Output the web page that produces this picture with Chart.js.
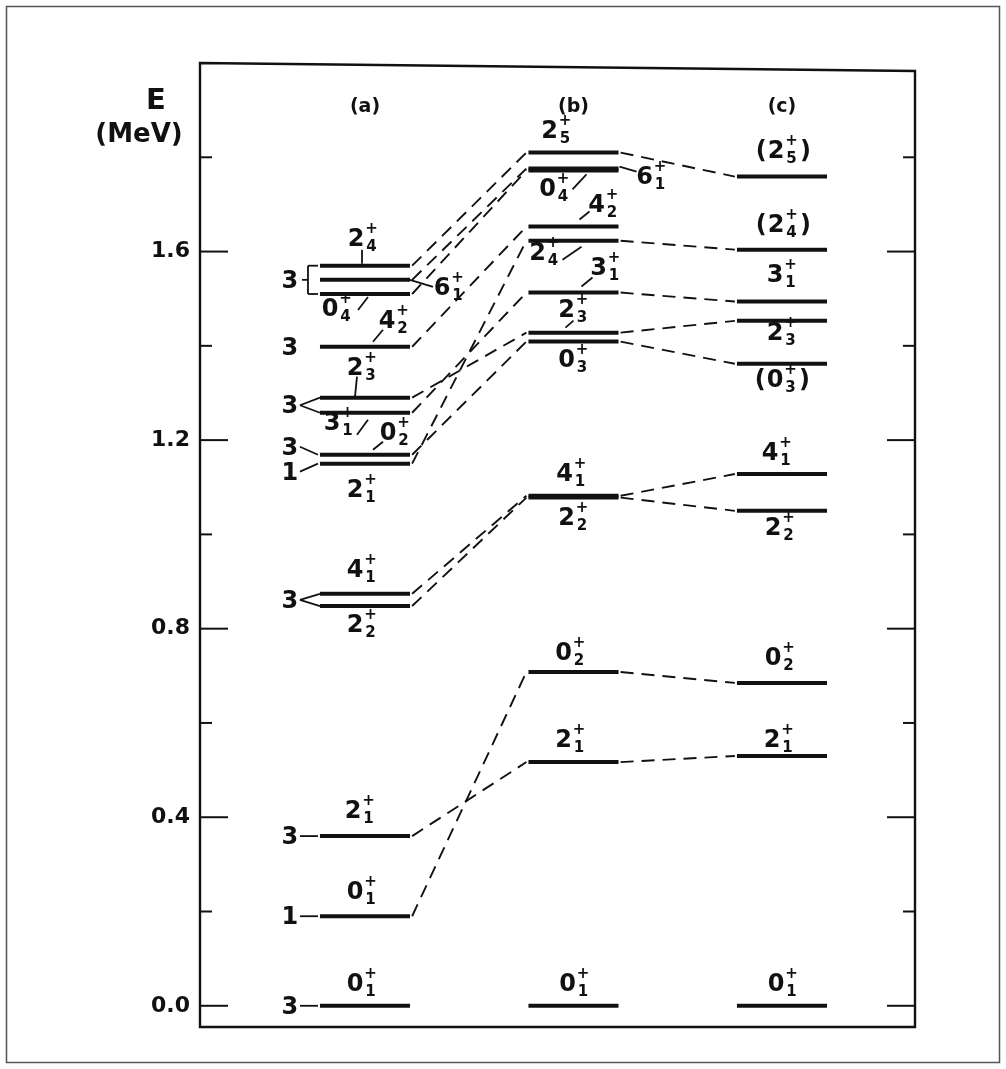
<!DOCTYPE html>
<html>
<head>
<meta charset="utf-8">
<title>Energy levels</title>
<script src="https://cdn.jsdelivr.net/npm/chart.js@4.4.1/dist/chart.umd.min.js"></script>
<style>
  html, body { margin: 0; padding: 0; background: #fff; }
  canvas { display: block; }
</style>
</head>
<body>
<canvas id="levels" width="1006" height="1069"></canvas>
<script>
// panel headings
const columns = ['(a)', '(b)', '(c)'];

// level energies (MeV), with their spin labels (J_k)
const energiesA = [0.0, 0.19, 0.36, 0.848, 0.874, 1.150, 1.169, 1.258, 1.290, 1.398, 1.510, 1.540, 1.570];
const spinsA = ['0_1', '0_1', '2_1', '2_2', '4_1', '2_1', '0_2', '3_1', '2_3', '4_2', '0_4', '6_1', '2_4'];

const energiesB = [0.0, 0.517, 0.708, 1.078, 1.082, 1.409, 1.428, 1.513, 1.623, 1.653, 1.772, 1.776, 1.810];
const spinsB = ['0_1', '2_1', '0_2', '2_2', '4_1', '0_3', '2_3', '3_1', '2_4', '4_2', '0_4', '6_1', '2_5'];

const energiesC = [0.0, 0.530, 0.685, 1.050, 1.128, 1.362, 1.453, 1.494, 1.604, 1.759];
const spinsC = ['0_1', '2_1', '0_2', '2_2', '4_1', '(0_3)', '2_3', '3_1', '(2_4)', '(2_5)'];

// dashed correspondences [from, to]
const linksAB = [[1, 2], [2, 1], [3, 3], [4, 4], [5, 8], [6, 5], [7, 7], [8, 6], [9, 9], [10, 10], [11, 11], [12, 12]];
const linksBC = [[1, 1], [2, 2], [3, 3], [4, 4], [5, 5], [6, 6], [7, 7], [8, 8], [12, 9]];

// numbers left of column (a) and the levels they belong to
const multA = [['3', [0]], ['1', [1]], ['3', [2]], ['3', [3, 4]], ['1', [5]], ['3', [6]], ['3', [7, 8]], ['3', [9]], ['3', [10, 11, 12]]];

const majorTicks = [0.0, 0.4, 0.8, 1.2, 1.6];
const minorTicks = [0.2, 0.6, 1.0, 1.4, 1.8];

// ---- layout ----
const colX = [1, 2, 3];
const halfW = 0.216;
// label placement: [dx from column centre, baseline dy from level, optional leader x1,y1,x2,y2]
const placeA = [[-10, -15], [-10, -17], [-12, -18], [-10, 26], [-10, -17], [-10, 33],
  [23, -15, 8, -5, 18, -13], [-33, 17, -8, 22, 3, 7], [-10, -23, -8, -21, -10, -1],
  [22, -19, 8, -5, 18, -17], [-35, 22, -7, 16, 3, 3], [77, 15, 45, 0, 68, 7], [-9, -20, -3, -16, -3, -2]];
const placeB = [[-6, -15], [-10, -15], [-10, -12], [-7, 27], [-9, -15], [-7, 25],
  [-7, -16, -8, -5, 0, -12], [25, -18, 8, -6, 19, -15], [-36, 19, -11, 19, 8, 6],
  [23, -15, 6, -7, 16, -15], [-26, 26, -1, 19, 13, 4], [71, 15, 46, -2, 63, 3], [-24, -15]];
const placeC = [[-6, -15], [-10, -9], [-9, -18], [-9, 24], [-12, -14], [-7, 23],
  [-7, 19], [-7, -20], [-6, -18], [-6, -19]];
const multDy = [0, 0, 0, 0, 8, -8, 0, 0, 0];

const BIG = 'bold 24px "DejaVu Sans"';
const SMALL = 'bold 15px "DejaVu Sans"';
const INK = '#111';

const levelSets = [
  { energies: energiesA, spins: spinsA, place: placeA },
  { energies: energiesB, spins: spinsB, place: placeB },
  { energies: energiesC, spins: spinsC, place: placeC }
];

const datasets = [];
levelSets.forEach(function (set, c) {
  set.energies.forEach(function (e) {
    datasets.push({
      data: [{ x: colX[c] - halfW, y: e }, { x: colX[c] + halfW, y: e }],
      borderColor: INK, borderWidth: 4, borderCapStyle: 'butt'
    });
  });
});
function addLinks(links, from, to, cFrom, cTo) {
  links.forEach(function (l) {
    datasets.push({
      data: [{ x: colX[cFrom] + halfW + 0.01, y: from[l[0]] }, { x: colX[cTo] - halfW - 0.01, y: to[l[1]] }],
      borderColor: INK, borderWidth: 1.9, borderDash: [13, 8]
    });
  });
}
addLinks(linksAB, energiesA, energiesB, 0, 1);
addLinks(linksBC, energiesB, energiesC, 1, 2);

function drawSpin(ctx, cx, by, label) {
  const paren = label.startsWith('(');
  const parts = label.replace(/[()]/g, '').split('_');
  ctx.textAlign = 'left';
  ctx.textBaseline = 'alphabetic';
  ctx.font = BIG;
  const w = ctx.measureText(parts[0]).width;
  const x0 = cx - w / 2;
  ctx.fillText(parts[0], x0, by);
  ctx.font = SMALL;
  const sw = Math.max(ctx.measureText('+').width, ctx.measureText(parts[1]).width);
  ctx.fillText('+', x0 + w + 1, by - 13);
  ctx.fillText(parts[1], x0 + w + 2, by + 5);
  if (paren) {
    ctx.font = BIG;
    ctx.textAlign = 'right';
    ctx.fillText('(', x0 - 1, by);
    ctx.textAlign = 'left';
    ctx.fillText(')', x0 + w + sw + 3, by);
  }
}

function line(ctx, x1, y1, x2, y2) {
  ctx.beginPath();
  ctx.moveTo(x1, y1);
  ctx.lineTo(x2, y2);
  ctx.stroke();
}

const decor = {
  id: 'decor',
  beforeDraw(chart) {
    const ctx = chart.ctx;
    ctx.save();
    ctx.fillStyle = '#fff';
    ctx.fillRect(0, 0, chart.width, chart.height);
    ctx.restore();
  },
  afterDraw(chart) {
    const ctx = chart.ctx;
    const area = chart.chartArea;
    const xs = chart.scales.x, ys = chart.scales.y;
    ctx.save();
    ctx.strokeStyle = '#555';
    ctx.lineWidth = 1.5;
    ctx.strokeRect(6.5, 6.5, 993, 1056);

    // plot box
    ctx.strokeStyle = INK;
    ctx.lineWidth = 2.4;
    ctx.beginPath();
    ctx.moveTo(area.left, area.top);
    ctx.lineTo(area.right, area.top + 8);
    ctx.lineTo(area.right, area.bottom);
    ctx.lineTo(area.left, area.bottom);
    ctx.closePath();
    ctx.stroke();

    // inward ticks
    ctx.lineWidth = 2;
    majorTicks.forEach(function (v) {
      const py = ys.getPixelForValue(v);
      line(ctx, area.left, py, area.left + 28, py);
      line(ctx, area.right, py, area.right - 28, py);
    });
    minorTicks.forEach(function (v) {
      const py = ys.getPixelForValue(v);
      line(ctx, area.left, py, area.left + 12, py);
      line(ctx, area.right, py, area.right - 12, py);
    });

    ctx.fillStyle = INK;
    ctx.font = 'bold 22px "DejaVu Sans"';
    ctx.textAlign = 'right';
    ctx.textBaseline = 'middle';
    majorTicks.forEach(function (v) {
      ctx.fillText(v.toFixed(1), area.left - 10, ys.getPixelForValue(v));
    });

    ctx.textAlign = 'center';
    ctx.font = 'bold 29px "DejaVu Sans"';
    ctx.fillText('E', 156, 101);
    ctx.font = 'bold 26px "DejaVu Sans"';
    ctx.fillText('(MeV)', 139, 135);

    ctx.font = 'bold 19px "DejaVu Sans"';
    columns.forEach(function (t, c) {
      ctx.fillText(t, xs.getPixelForValue(colX[c]), area.top + 44);
    });

    // spin labels
    ctx.lineWidth = 1.8;
    levelSets.forEach(function (set, c) {
      const cx = xs.getPixelForValue(colX[c]);
      set.energies.forEach(function (e, i) {
        const py = ys.getPixelForValue(e);
        const p = set.place[i];
        drawSpin(ctx, cx + p[0], py + p[1], set.spins[i]);
        if (p.length > 2) line(ctx, cx + p[2], py + p[3], cx + p[4], py + p[5]);
      });
    });

    // multiplicities on the left of (a)
    const left = xs.getPixelForValue(colX[0] - halfW);
    ctx.font = BIG;
    ctx.textAlign = 'center';
    ctx.textBaseline = 'middle';
    multA.forEach(function (m, k) {
      const ys2 = m[1].map(function (i) { return ys.getPixelForValue(energiesA[i]); });
      const top = Math.min.apply(null, ys2), bot = Math.max.apply(null, ys2);
      const mid = (top + bot) / 2 + multDy[k];
      const tx = left - 30;
      ctx.fillText(m[0], tx, mid + 2);
      if (m[1].length === 1) {
        if (m[1][0] !== 9) line(ctx, tx + 10, mid, left - 2, ys2[0]);
      } else if (m[1].length === 2) {
        line(ctx, tx + 10, mid, left, top);
        line(ctx, tx + 10, mid, left, bot);
      } else {
        line(ctx, left - 2, top, tx + 18, top);
        line(ctx, tx + 18, top, tx + 18, bot);
        line(ctx, tx + 18, bot, left - 2, bot);
        line(ctx, tx + 12, mid, tx + 18, mid);
      }
    });
    ctx.restore();
  }
};

new Chart(document.getElementById('levels').getContext('2d'), {
  type: 'line',
  data: { datasets: datasets },
  options: {
    responsive: false,
    animation: false,
    parsing: true,
    layout: { padding: { left: 200, top: 63, right: 91, bottom: 42 } },
    elements: { point: { radius: 0 }, line: { tension: 0 } },
    plugins: { legend: { display: false }, tooltip: { enabled: false } },
    scales: {
      x: { type: 'linear', min: 0.2086, max: 3.638, display: false },
      y: { type: 'linear', min: -0.045, max: 2.0, display: false }
    }
  },
  plugins: [decor]
});
</script>
</body>
</html>
